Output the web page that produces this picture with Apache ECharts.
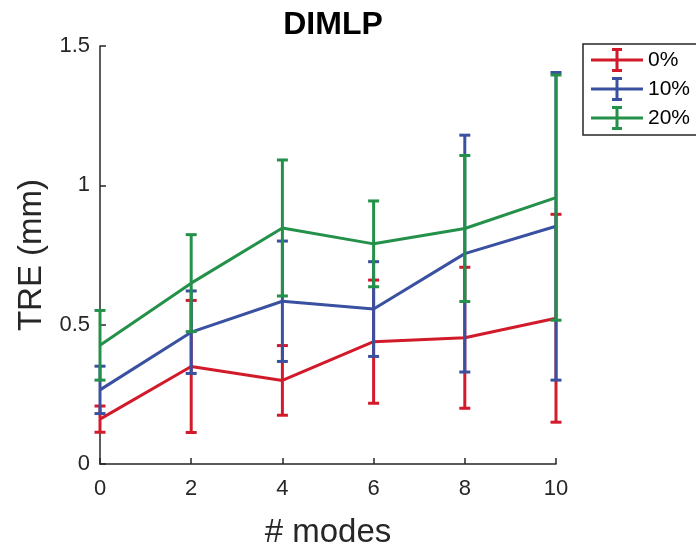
<!DOCTYPE html>
<html>
<head>
<meta charset="utf-8">
<script src="https://cdn.jsdelivr.net/npm/echarts@6/dist/echarts.min.js"></script>
<style>
html, body { margin: 0; padding: 0; background: #fff; }
#chart { width: 696px; height: 554px; }
</style>
</head>
<body>
<div id="chart"></div>
<script>
// data (mean and half-length of the error bar)
var modes = [0, 2, 4, 6, 8, 10];
var names = ['0%', '10%', '20%'];
var colors = ['#d21a2b', '#3a50a0', '#24914b'];
var mean0 = [0.161, 0.350, 0.300, 0.439, 0.453, 0.523];
var err0 = [0.047, 0.237, 0.125, 0.221, 0.253, 0.373];
var mean10 = [0.266, 0.473, 0.584, 0.556, 0.755, 0.853];
var err10 = [0.085, 0.148, 0.216, 0.170, 0.425, 0.552];
var mean20 = [0.426, 0.649, 0.847, 0.790, 0.845, 0.956];
var err20 = [0.125, 0.174, 0.244, 0.154, 0.262, 0.440];
var yTicks = [0, 0.5, 1, 1.5];

var means = [mean0, mean10, mean20];
var errs = [err0, err10, err20];
var font = 'Liberation Sans, Arial, Helvetica, sans-serif';
var ink = '#262626';

// legend glyph: line with a small error bar in the middle
var errIcon = 'path://M0,10.5H52V13.5H0Z M24.5,1H27.5V23H24.5Z M21,0H31V3H21Z M21,21H31V24H21Z';

function errRender(k) {
  return function (params, api) {
    var x = api.value(0), m = api.value(1), e = api.value(2);
    var top = api.coord([x, m + e]);
    var bot = api.coord([x, m - e]);
    var st = { stroke: colors[k], lineWidth: 3 };
    return {
      type: 'group',
      children: [
        { type: 'line', shape: { x1: top[0], y1: top[1], x2: bot[0], y2: bot[1] }, style: st },
        { type: 'line', shape: { x1: top[0] - 5.5, y1: top[1], x2: top[0] + 5.5, y2: top[1] }, style: st },
        { type: 'line', shape: { x1: bot[0] - 5.5, y1: bot[1], x2: bot[0] + 5.5, y2: bot[1] }, style: st }
      ]
    };
  };
}

var series = [];
for (var k = 0; k < 3; k++) {
  series.push({
    name: 'line' + k,
    type: 'line',
    data: modes.map(function (x, i) { return [x, means[k][i]]; }),
    showSymbol: false,
    lineStyle: { color: colors[k], width: 3 },
    itemStyle: { color: colors[k] },
    z: 2 + k * 2
  });
  series.push({
    name: names[k],
    type: 'custom',
    renderItem: errRender(k),
    data: modes.map(function (x, i) { return [x, means[k][i], errs[k][i]]; }),
    itemStyle: { color: colors[k] },
    z: 3 + k * 2
  });
}

var chart = echarts.init(document.getElementById('chart'));
chart.setOption({
  animation: false,
  backgroundColor: '#fff',
  title: {
    text: 'DIMLP',
    left: 328,
    textAlign: 'center',
    top: 4,
    textStyle: { fontFamily: font, fontSize: 32, fontWeight: 'bold', color: '#000' }
  },
  grid: { left: 100, right: 140, top: 46, bottom: 88 },
  legend: {
    orient: 'vertical',
    left: 583,
    top: 44,
    padding: [4, 30, 5, 8],
    itemWidth: 52,
    itemHeight: 24,
    itemGap: 5,
    borderColor: ink,
    borderWidth: 1.5,
    borderRadius: 0,
    icon: errIcon,
    itemStyle: { borderWidth: 0 },
    textStyle: { fontFamily: font, fontSize: 21, color: '#000', padding: [0, 0, 0, 0] },
    data: names
  },
  xAxis: {
    type: 'value',
    min: 0,
    max: 10,
    interval: 2,
    name: '# modes',
    nameLocation: 'middle',
    nameGap: 52,
    nameTextStyle: { fontFamily: font, fontSize: 33, color: ink },
    axisLine: { lineStyle: { color: ink, width: 1.5 } },
    axisTick: { inside: true, length: 6, lineStyle: { color: ink, width: 1.5 } },
    axisLabel: { fontFamily: font, fontSize: 22, color: ink, margin: 14 },
    splitLine: { show: false }
  },
  yAxis: {
    type: 'value',
    min: yTicks[0],
    max: yTicks[yTicks.length - 1],
    interval: 0.5,
    name: 'TRE (mm)',
    nameLocation: 'middle',
    nameGap: 52,
    nameTextStyle: { fontFamily: font, fontSize: 33, color: ink },
    axisLine: { show: true, lineStyle: { color: ink, width: 1.5 } },
    axisTick: { show: true, inside: true, length: 6, lineStyle: { color: ink, width: 1.5 } },
    axisLabel: { fontFamily: font, fontSize: 22, color: ink, margin: 10 },
    splitLine: { show: false }
  },
  series: series
});
</script>
</body>
</html>
